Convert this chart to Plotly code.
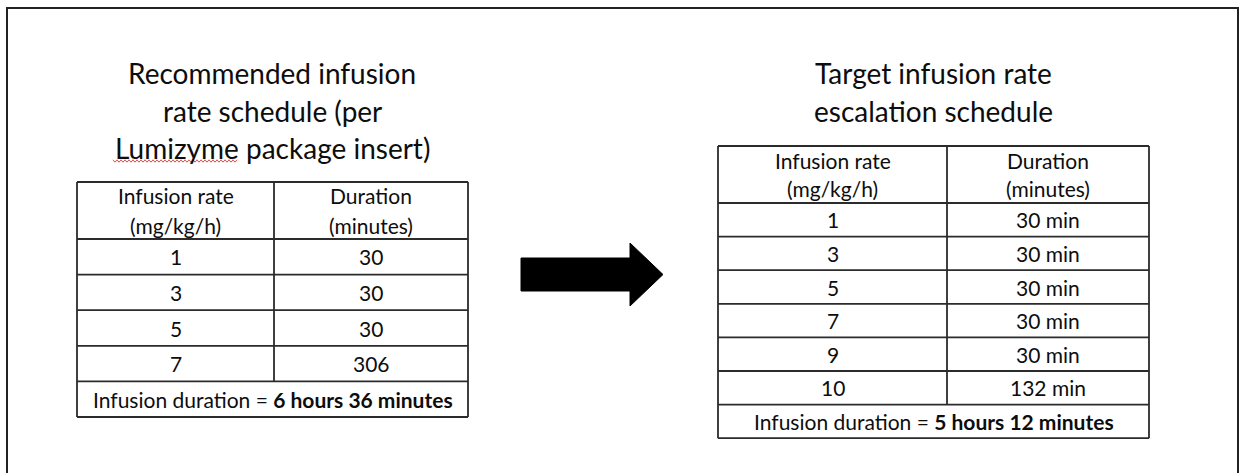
import plotly.graph_objects as go

# ---------------- data ----------------
left_title = ["Recommended infusion", "rate schedule (per", "Lumizyme package insert)"]
right_title = ["Target infusion rate", "escalation schedule"]
header_rate = ["Infusion rate", "(mg/kg/h)"]
header_dur = ["Duration", "(minutes)"]

left_rates = [1, 3, 5, 7]
left_durations = [30, 30, 30, 306]
left_total = "6 hours 36 minutes"

right_rates = [1, 3, 5, 7, 9, 10]
right_durations = [30, 30, 30, 30, 30, 132]
right_unit = " min"
right_total = "5 hours 12 minutes"

# ---------------- style / layout ----------------
W, H = 1244, 473
FONT = "Lato"
TXT = "#0d0d0d"
LINE = "#2b2b2b"
LW = 1.8
TS = 28   # title font size
CS = 21   # cell font size

fig = go.Figure()
shapes = []
annots = []


def text(x, y, s, size):
    annots.append(dict(x=x, y=y, xref="x", yref="y", text=s, showarrow=False,
                       xanchor="center", yanchor="middle",
                       font=dict(family=FONT, size=size, color=TXT)))


def hline(x0, x1, y):
    shapes.append(dict(type="line", x0=x0, x1=x1, y0=y, y1=y, xref="x", yref="y",
                       line=dict(color=LINE, width=LW)))


def vline(x, y0, y1):
    shapes.append(dict(type="line", x0=x, x1=x, y0=y0, y1=y1, xref="x", yref="y",
                       line=dict(color=LINE, width=LW)))


def table(x0, xm, x1, ytop, yhead, rowh, rates, durs, unit, total, hdr_gap, fsize):
    n = len(rates)
    rows_y = [yhead + i * rowh for i in range(n + 1)]
    ybot = rows_y[-1] + rowh
    hline(x0, x1, ytop)
    hline(x0, x1, ybot)
    vline(x0, ytop, ybot)
    vline(x1, ytop, ybot)
    hline(x0, x1, yhead)
    for yy in rows_y[1:]:
        hline(x0, x1, yy)
    vline(xm, ytop, rows_y[-1])
    cx1 = (x0 + xm) / 2
    cx2 = (xm + x1) / 2
    hc = (ytop + yhead) / 2
    text(cx1, hc - hdr_gap / 2, header_rate[0], fsize)
    text(cx1, hc + hdr_gap / 2, header_rate[1], fsize)
    text(cx2, hc - hdr_gap / 2, header_dur[0], fsize)
    text(cx2, hc + hdr_gap / 2, header_dur[1], fsize)
    for i, (r, d) in enumerate(zip(rates, durs)):
        yc = rows_y[i] + rowh / 2
        text(cx1, yc, str(r), fsize)
        text(cx2, yc, f"{d}{unit}", fsize)
    yc = rows_y[-1] + rowh / 2
    text((x0 + x1) / 2, yc, f"Infusion duration = <b>{total}</b>", fsize)


# frame (no bottom edge visible)
shapes.append(dict(type="path", path=f"M 7 {H+5} L 7 8 L 1238 8 L 1238 {H+5}",
                   xref="x", yref="y", line=dict(color="#222222", width=2)))

# titles
for i, s in enumerate(left_title):
    text(272, 73 + i * 37.5, s, TS)
for i, s in enumerate(right_title):
    text(933, 73 + i * 37.5, s, TS)

# spell-check squiggle under "Lumizyme"
zx0, zx1, zy = 113, 238, 161
pts = []
x = zx0
k = 0
while x <= zx1:
    pts.append(f"{x} {zy + (1.2 if k % 2 else -1.2)}")
    x += 2
    k += 1
shapes.append(dict(type="path", path="M " + " L ".join(pts), xref="x", yref="y",
                   line=dict(color="#e05050", width=1)))

# tables
table(77, 274, 468, 182, 239, 35.6, left_rates, left_durations, "", left_total, 30, CS)
table(718, 947, 1149, 146, 203, 33.6, right_rates, right_durations, right_unit, right_total, 28, CS)

# arrow
shapes.append(dict(type="path",
                   path="M 521 258 L 630 258 L 630 243 L 663 274.5 L 630 306 L 630 291 L 521 291 Z",
                   xref="x", yref="y", fillcolor="#000000", line=dict(color="#000000", width=1)))

fig.update_layout(
    width=W, height=H,
    margin=dict(l=0, r=0, t=0, b=0),
    paper_bgcolor="white", plot_bgcolor="white",
    xaxis=dict(range=[0, W], visible=False, fixedrange=True),
    yaxis=dict(range=[H, 0], visible=False, fixedrange=True),
    shapes=shapes, annotations=annots, showlegend=False,
)

fig.write_html(
    "out.html",
    config={"displayModeBar": False, "staticPlot": True},
    post_script="document.body.style.margin='0px';document.body.style.overflow='hidden';",
)
